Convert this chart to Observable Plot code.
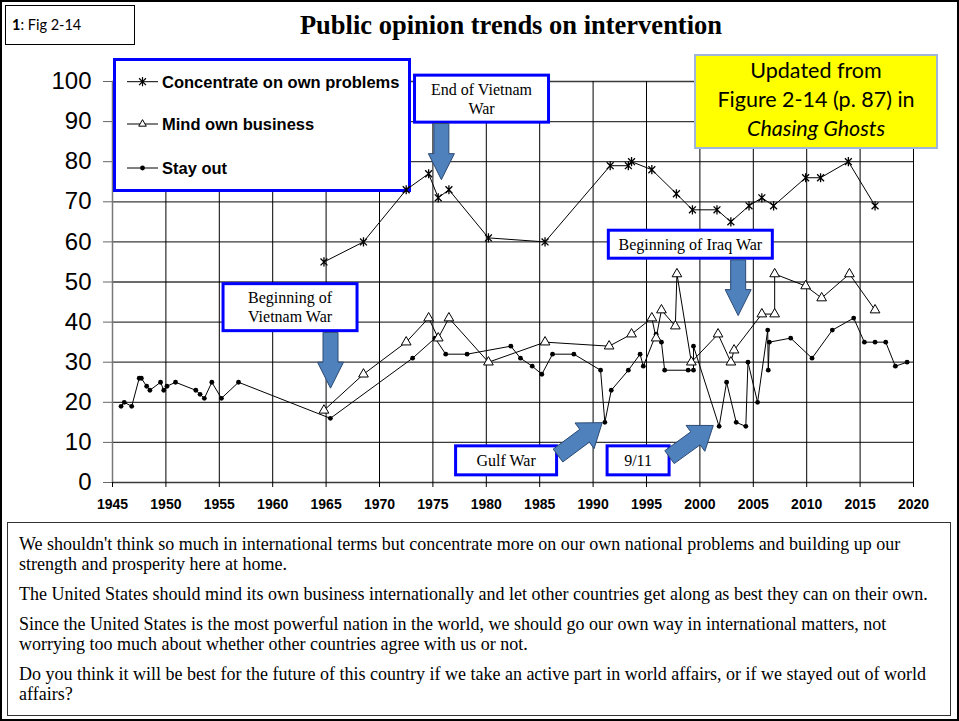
<!DOCTYPE html>
<html>
<head>
<meta charset="utf-8">
<script src="https://cdn.jsdelivr.net/npm/d3@7"></script>
<script src="https://cdn.jsdelivr.net/npm/@observablehq/plot@0.6"></script>
<style>
  body { margin: 0; background: #fff; }
  #page { position: relative; width: 959px; height: 721px; overflow: hidden; background: #fff; }
  #frame { position: absolute; left: 0; top: 0; width: 959px; height: 721px; box-sizing: border-box; border: 2px solid #000; pointer-events: none; z-index: 10; }
  #figbox { position: absolute; left: 5px; top: 5px; width: 130px; height: 40px; box-sizing: border-box; border: 1px solid #000; font-family: Lato, "Open Sans", sans-serif; font-size: 14.5px; line-height: 38px; padding-left: 6px; background: #fff; z-index: 5; }
  #title { position: absolute; left: 150px; width: 722px; top: 10px; text-align: center; font-family: "Liberation Serif", "Times New Roman", serif; font-weight: bold; font-size: 26.5px; z-index: 5; }
  #chart { position: absolute; left: 0; top: 0; }
  #yellow { position: absolute; left: 694px; top: 54px; width: 244px; height: 95px; box-sizing: border-box; background: #ffff00; border: 2px solid #9fb6d8; font-family: Lato, "Open Sans", sans-serif; font-size: 21.5px; line-height: 29px; text-align: center; padding-top: 0px; z-index: 5; }
  #notes { position: absolute; left: 7px; top: 522px; width: 944px; height: 194px; box-sizing: border-box; border: 1px solid #333; font-family: "Liberation Serif", "Times New Roman", serif; font-size: 18px; line-height: 20px; padding: 11px 0 0 11px; white-space: nowrap; }
  #notes p { margin: 0 0 10px 0; }
</style>
</head>
<body>
<div id="page">
  <div id="chart"></div>
  <div id="figbox"><b>1</b>: Fig 2-14</div>
  <div id="title">Public opinion trends on intervention</div>
  <div id="yellow">Updated from<br>Figure 2-14 (p. 87) in<br><i>Chasing Ghosts</i></div>
  <div id="notes">
    <p>We shouldn't think so much in international terms but concentrate more on our own national problems and building up our<br>strength and prosperity here at home.</p>
    <p>The United States should mind its own business internationally and let other countries get along as best they can on their own.</p>
    <p>Since the United States is the most powerful nation in the world, we should go our own way in international matters, not<br>worrying too much about whether other countries agree with us or not.</p>
    <p>Do you think it will be best for the future of this country if we take an active part in world affairs, or if we stayed out of world<br>affairs?</p>
  </div>
  <div id="frame"></div>
</div>
<script>
// ---------------- DATA ----------------
const seriesNames = ["Concentrate on own problems", "Mind own business", "Stay out"];

const concentrateYears = [1964.8, 1968.5, 1972.5, 1974.6, 1975.5, 1976.5, 1980.2, 1985.5, 1991.6, 1993.3, 1993.6, 1995.5, 1997.8, 1999.3, 2001.6, 2002.9, 2004.6, 2005.8, 2006.9, 2009.9, 2011.3, 2013.9, 2016.4];
const concentrateValues = [55, 60, 73, 77, 71, 73, 61, 60, 79, 79, 80, 78, 72, 68, 68, 65, 69, 71, 69, 76, 76, 80, 69];

const mindYears = [1964.8, 1968.5, 1972.5, 1974.6, 1975.5, 1976.5, 1980.2, 1985.5, 1991.5, 1993.6, 1995.5, 1995.9, 1996.4, 1997.7, 1997.85, 1999.2, 2001.7, 2002.9, 2003.2, 2005.8, 2007.0, 2007.0, 2009.9, 2011.4, 2014.0, 2016.4];
const mindValues = [18, 27, 35, 41, 36, 41, 30, 35, 34, 37, 41, 36, 43, 39, 52, 30, 37, 30, 33, 42, 42, 52, 49, 46, 52, 43];

const stayYears = [1945.8, 1946.1, 1946.8, 1947.5, 1947.7, 1948.2, 1948.5, 1949.5, 1949.8, 1950.1, 1950.9, 1952.8, 1953.2, 1953.6, 1954.3, 1955.2, 1956.8, 1965.4, 1973.1, 1975.2, 1976.2, 1978.2, 1982.3, 1983.2, 1984.3, 1985.2, 1986.2, 1988.2, 1990.7, 1991.1, 1991.7, 1993.3, 1994.4, 1994.7, 1995.9, 1996.4, 1996.7, 1998.9, 1999.4, 1999.4, 2001.8, 2002.5, 2003.4, 2004.3, 2004.5, 2005.4, 2006.35, 2006.4, 2006.5, 2008.5, 2010.5, 2012.4, 2014.4, 2015.4, 2016.4, 2017.4, 2018.3, 2019.4];
const stayValues = [19, 20, 19, 26, 26, 24, 23, 25, 23, 24, 25, 23, 22, 21, 25, 21, 25, 16, 31, 36, 32, 32, 34, 31, 29, 27, 32, 32, 28, 15, 23, 28, 32, 29, 37, 35, 28, 28, 28, 34, 14, 25, 15, 14, 30, 20, 38, 28, 35, 36, 31, 38, 41, 35, 35, 35, 29, 30];

const xTicks = [1945, 1950, 1955, 1960, 1965, 1970, 1975, 1980, 1985, 1990, 1995, 2000, 2005, 2010, 2015, 2020];
const yTicks = [0, 10, 20, 30, 40, 50, 60, 70, 80, 90, 100];

// Callouts (anchored in data coordinates)
const calloutTexts = [["End of Vietnam", "War"], ["Beginning of", "Vietnam War"], ["Beginning of Iraq War"], ["Gulf War"], ["9/11"]];
const calloutYears = [1979.6, 1961.67, 1999.15, 1981.9, 1994.26];
const calloutValues = [95.6, 43.6, 59.3, 5.4, 5.4];

const arrowFromYears = [1975.84, 1965.46, 2003.63, 1986.76, 1997.2];
const arrowFromValues = [89.4, 37.3, 55.4, 6.6, 6.2];
const arrowToYears = [1975.84, 1965.46, 2003.63, 1990.9, 2001.3];
const arrowToValues = [75.4, 23.4, 41.5, 14.8, 14.1];

// ---------------- BUILD ----------------
const toRows = (ys, vs) => ys.map((y, i) => ({year: y, value: vs[i]}));
const concentrate = toRows(concentrateYears, concentrateValues);
const mind = toRows(mindYears, mindValues);
const stay = toRows(stayYears, stayValues);

const starSymbol = {
  draw(ctx, size) {
    const r = Math.sqrt(size / Math.PI);
    const d = r * 0.75;
    ctx.moveTo(0, -r); ctx.lineTo(0, r);
    ctx.moveTo(-d, -d); ctx.lineTo(d, d);
    ctx.moveTo(-d, d); ctx.lineTo(d, -d);
  }
};

const W = 959, H = 520;
const plot = Plot.plot({
  width: W, height: H,
  marginLeft: 112, marginRight: 46, marginTop: 81, marginBottom: H - 482,
  x: {domain: [1945, 2020]},
  y: {domain: [0, 100]},
  style: {background: "transparent", fontFamily: "'Liberation Sans', Arial, sans-serif", color: "#000", overflow: "visible"},
  marks: [
    Plot.ruleY(yTicks, {y: d => d, stroke: "#3a3a3a", strokeWidth: 1.3}),
    Plot.ruleX(xTicks, {x: d => d, stroke: "#000", strokeWidth: 1}),
    Plot.ruleX([1945], {x: d => d, stroke: "#777", strokeWidth: 1.5}),
    Plot.axisY({ticks: yTicks, tickSize: 9, tickPadding: 12, fontSize: 24, stroke: "#666", tickFormat: d => String(d), label: null}),
    Plot.axisX({ticks: xTicks, tickSize: 5, tickPadding: 12, fontSize: 14, fontWeight: "bold", stroke: "#000", tickFormat: d => String(d), label: null}),
    Plot.line(stay, {x: "year", y: "value", stroke: "#000", strokeWidth: 1}),
    Plot.line(mind, {x: "year", y: "value", stroke: "#000", strokeWidth: 1}),
    Plot.line(concentrate, {x: "year", y: "value", stroke: "#000", strokeWidth: 1}),
    Plot.dot(stay, {x: "year", y: "value", symbol: "circle", r: 2.4, fill: "#000", stroke: "none"}),
    Plot.dot(mind, {x: "year", y: "value", symbol: "triangle", r: 3.6, fill: "#fff", stroke: "#000", strokeWidth: 1}),
    Plot.dot(concentrate, {x: "year", y: "value", symbol: starSymbol, r: 4.6, fill: "none", stroke: "#000", strokeWidth: 1.3})
  ]
});
document.getElementById("chart").appendChild(plot);

const sx = plot.scale("x"), sy = plot.scale("y");
const svg = d3.select(plot);

// Legend (under the data lines, above the grid)
const legendG = svg.insert("g", 'g[aria-label="line"]').attr("text-anchor", "start");
legendG.append("rect").attr("x", 114.5).attr("y", 59.5).attr("width", 295).attr("height", 131)
  .attr("fill", "#fff").attr("stroke", "#0000ff").attr("stroke-width", 3);
const legendSymbols = [starSymbol, d3.symbolTriangle2, d3.symbolCircle];
const legendR = [4.6, 3.6, 2.4];
const legendY = [81.7, 124, 168];
seriesNames.forEach((name, i) => {
  const g = legendG.append("g").attr("transform", `translate(0,${legendY[i]})`);
  g.append("line").attr("x1", 127).attr("x2", 158).attr("stroke", "#000").attr("stroke-width", 1);
  const p = g.append("path").attr("transform", "translate(142.5,0)")
    .attr("d", d3.symbol(legendSymbols[i], legendR[i] * legendR[i] * Math.PI)());
  if (i === 0) p.attr("fill", "none").attr("stroke", "#000").attr("stroke-width", 1.2);
  else if (i === 1) p.attr("fill", "#fff").attr("stroke", "#000");
  else p.attr("fill", "#000");
  g.append("text").attr("x", 162).attr("dy", "0.36em").attr("text-anchor", "start")
    .attr("font-size", 16.5).attr("font-weight", "bold")
    .attr("font-family", "'Liberation Sans', Arial, sans-serif").attr("fill", "#000").text(name);
});

// Callout boxes and arrows (on top)
const calloutW = [137, 137, 167, 104, 65];
const calloutH = [50, 50, 31, 32, 32];
const annG = svg.append("g");
calloutTexts.forEach((lines, i) => {
  const cx = sx.apply(calloutYears[i]), cy = sy.apply(calloutValues[i]);
  const w = calloutW[i], h = calloutH[i];
  annG.append("rect").attr("x", cx - w / 2 + 1.5).attr("y", cy - h / 2 + 1.5)
    .attr("width", w - 3).attr("height", h - 3)
    .attr("fill", "#fff").attr("stroke", "#0000ff").attr("stroke-width", 3);
  const t = annG.append("text").attr("text-anchor", "middle")
    .attr("font-family", "'Liberation Serif', 'Times New Roman', serif").attr("font-size", 16).attr("fill", "#000");
  lines.forEach((ln, j) => {
    t.append("tspan").attr("x", cx).attr("y", cy + (j - (lines.length - 1) / 2) * 19).attr("dy", "0.35em").text(ln);
  });
});

function blockArrow(x0, y0, x1, y1, sw, hw, hl) {
  const dx = x1 - x0, dy = y1 - y0, L = Math.hypot(dx, dy);
  const ux = dx / L, uy = dy / L, nx = -uy, ny = ux;
  const bx = x1 - ux * hl, by = y1 - uy * hl;
  const pts = [
    [x0 + nx * sw / 2, y0 + ny * sw / 2],
    [bx + nx * sw / 2, by + ny * sw / 2],
    [bx + nx * hw / 2, by + ny * hw / 2],
    [x1, y1],
    [bx - nx * hw / 2, by - ny * hw / 2],
    [bx - nx * sw / 2, by - ny * sw / 2],
    [x0 - nx * sw / 2, y0 - ny * sw / 2]
  ];
  return pts.map(p => p.join(",")).join(" ");
}
arrowFromYears.forEach((_, i) => {
  const x0 = sx.apply(arrowFromYears[i]), y0 = sy.apply(arrowFromValues[i]);
  const x1 = sx.apply(arrowToYears[i]), y1 = sy.apply(arrowToValues[i]);
  const diag = i >= 3;
  annG.append("polygon")
    .attr("points", blockArrow(x0, y0, x1, y1, diag ? 16 : 15, diag ? 32 : 26, diag ? 22 : 26))
    .attr("fill", "#4f81bd").attr("stroke", "#2c4a74").attr("stroke-width", 1);
});
</script>
</body>
</html>
